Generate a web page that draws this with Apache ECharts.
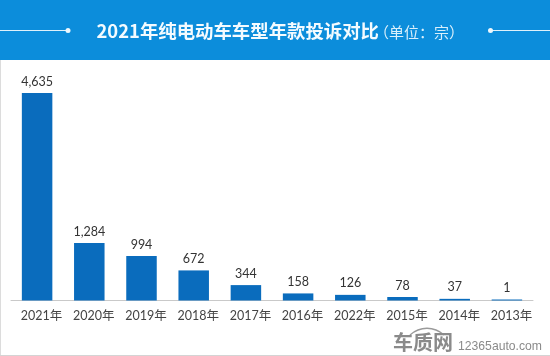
<!DOCTYPE html>
<html><head><meta charset="utf-8">
<style>html,body{margin:0;padding:0;background:#fff}#c{width:550px;height:356px}</style>
<script src="https://cdn.jsdelivr.net/npm/echarts@6/dist/echarts.min.js"></script>
</head><body><div id="c"></div>
<script>
const categories = ['2021年','2020年','2019年','2018年','2017年','2016年','2022年','2015年','2014年','2013年'];
const complaints = [4635,1284,994,672,344,158,126,78,37,1];
const titleMain = '2021年纯电动车车型年款投诉对比';
const titleUnit = '（单位：宗）';
const font = '"Noto Sans CJK SC","Lato",sans-serif';
const chart = echarts.init(document.getElementById('c'));
chart.setOption({
  animation:false,
  backgroundColor:'#fff',
  grid:{left:11,right:17,top:93,bottom:55.5,containLabel:false},
  xAxis:{type:'category',data:categories,z:1,
    axisLine:{lineStyle:{color:'#c9c9c9',width:1}},axisTick:{show:false},
    axisLabel:{interval:0,color:'#444',fontSize:12.5,fontFamily:'Lato,"Noto Sans CJK SC",sans-serif',margin:9,padding:[0,0,0,9]}},
  yAxis:{type:'value',min:0,max:4635,show:false,splitLine:{show:false}},
  series:[{type:'bar',data:complaints,barWidth:30.5,barMinHeight:1,z:5,
    itemStyle:{color:'#0a6cbd'},
    label:{show:true,position:'top',distance:5,color:'#333',fontSize:12.5,fontFamily:'Lato,sans-serif',
      formatter:p=>p.value.toLocaleString('en-US')}}],
  graphic:[
    {type:'rect',shape:{x:0,y:0,width:550,height:60},style:{fill:'#0c8ddb'},z:10},
    {type:'line',shape:{x1:0,y1:30.5,x2:67,y2:30.5},style:{stroke:'#dff1fb',lineWidth:1},z:11},
    {type:'circle',shape:{cx:68,cy:30.5,r:2.5},style:{fill:'#eef8fd'},z:11},
    {type:'line',shape:{x1:491,y1:30.5,x2:550,y2:30.5},style:{stroke:'#dff1fb',lineWidth:1},z:11},
    {type:'circle',shape:{cx:490.5,cy:30.5,r:2.5},style:{fill:'#eef8fd'},z:11},
    {type:'text',x:96.5,y:31,style:{text:titleMain,fill:'#f4fbff',font:'bold 18.4px '+font,textVerticalAlign:'middle'},z:11},
    {type:'text',x:374,y:32.5,style:{text:titleUnit,fill:'#d9effb',font:'15px '+font,textVerticalAlign:'middle'},z:11},
    {type:'rect',shape:{x:0,y:60,width:1,height:296},style:{fill:'#dcdcdc'},z:10},
    {type:'rect',shape:{x:0,y:355,width:550,height:1},style:{fill:'#d4d4d4'},z:10},
    {type:'bezierCurve',shape:{x1:410,y1:335,x2:444,y2:335,cpx1:420,cpy1:326,cpx2:434,cpy2:326},style:{stroke:'#9a9a9a',lineWidth:1.5,fill:'none'},z:11},
    {type:'text',x:393,y:342.5,style:{text:'车质网',fill:'#8a8a8a',font:'bold 20px '+font,textVerticalAlign:'middle'},z:11},
    {type:'text',x:458,y:347,style:{text:'12365auto.com',fill:'#8a8a8a',font:'12.2px "Liberation Sans",sans-serif',textVerticalAlign:'middle'},z:11}
  ]
});
</script></body></html>
